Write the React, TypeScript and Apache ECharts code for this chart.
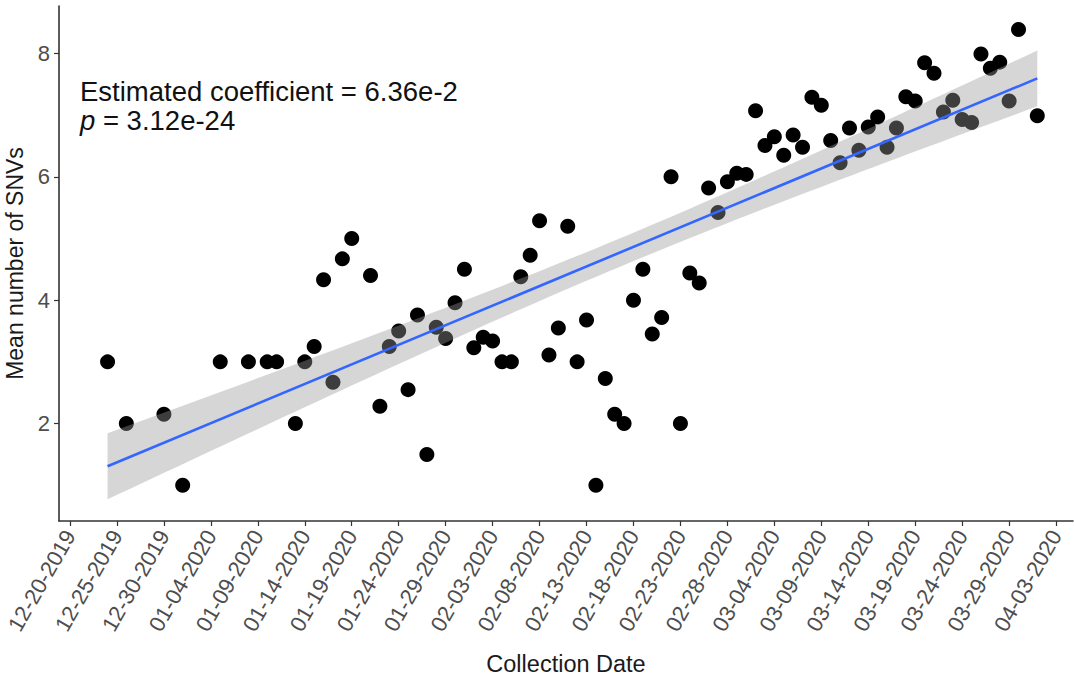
import React, { useEffect, useRef } from "react";
import * as echarts from "echarts";

// ---- data ----
const xTickLabels = [
  "12-20-2019", "12-25-2019", "12-30-2019", "01-04-2020", "01-09-2020", "01-14-2020",
  "01-19-2020", "01-24-2020", "01-29-2020", "02-03-2020", "02-08-2020", "02-13-2020",
  "02-18-2020", "02-23-2020", "02-28-2020", "03-04-2020", "03-09-2020", "03-14-2020",
  "03-19-2020", "03-24-2020", "03-29-2020", "04-03-2020",
];
const yTickValues = [2, 4, 6, 8];

const collectionDates = [
  "12-24-2019", "12-26-2019", "12-30-2019", "01-01-2020", "01-05-2020", "01-08-2020",
  "01-10-2020", "01-11-2020", "01-13-2020", "01-14-2020", "01-15-2020", "01-16-2020",
  "01-17-2020", "01-18-2020", "01-19-2020", "01-21-2020", "01-22-2020", "01-23-2020",
  "01-24-2020", "01-25-2020", "01-26-2020", "01-27-2020", "01-28-2020", "01-29-2020",
  "01-30-2020", "01-31-2020", "02-01-2020", "02-02-2020", "02-03-2020", "02-04-2020",
  "02-05-2020", "02-06-2020", "02-07-2020", "02-08-2020", "02-09-2020", "02-10-2020",
  "02-11-2020", "02-12-2020", "02-13-2020", "02-14-2020", "02-15-2020", "02-16-2020",
  "02-17-2020", "02-18-2020", "02-19-2020", "02-20-2020", "02-21-2020", "02-22-2020",
  "02-23-2020", "02-24-2020", "02-25-2020", "02-26-2020", "02-27-2020", "02-28-2020",
  "02-29-2020", "03-01-2020", "03-02-2020", "03-03-2020", "03-04-2020", "03-05-2020",
  "03-06-2020", "03-07-2020", "03-08-2020", "03-09-2020", "03-10-2020", "03-11-2020",
  "03-12-2020", "03-13-2020", "03-14-2020", "03-15-2020", "03-16-2020", "03-17-2020",
  "03-18-2020", "03-19-2020", "03-20-2020", "03-21-2020", "03-22-2020", "03-23-2020",
  "03-24-2020", "03-25-2020", "03-26-2020", "03-27-2020", "03-28-2020", "03-29-2020",
  "03-30-2020", "04-01-2020",
];
const meanSNVs = [
  3.0, 2.0, 2.15, 1.0, 3.0, 3.0,
  3.0, 3.0, 2.0, 3.0, 3.25, 4.33,
  2.67, 4.67, 5.0, 4.4, 2.28, 3.25,
  3.5, 2.55, 3.76, 1.5, 3.56, 3.38,
  3.96, 4.5, 3.23, 3.4, 3.34, 3.0,
  3.0, 4.38, 4.73, 5.29, 3.11, 3.55,
  5.2, 3.0, 3.68, 1.0, 2.73, 2.15,
  2.0, 4.0, 4.5, 3.45, 3.72, 6.0,
  2.0, 4.44, 4.28, 5.82, 5.42, 5.92,
  6.06, 6.04, 7.07, 6.51, 6.65, 6.35,
  6.68, 6.48, 7.29, 7.16, 6.59, 6.23,
  6.79, 6.43, 6.81, 6.97, 6.48, 6.79,
  7.3, 7.23, 7.85, 7.68, 7.05, 7.24,
  6.93, 6.88, 7.99, 7.76, 7.86, 7.23,
  8.39, 6.99,
];

const annotationLine1 = "Estimated coefficient = 6.36e-2";
const annotationLine2 = "{i|p} = 3.12e-24";
const xAxisTitle = "Collection Date";
const yAxisTitle = "Mean number of SNVs";

// ---- helpers ----
const FONT = "'Liberation Sans', Arial, Helvetica, sans-serif";
const ORIGIN = xTickLabels[0];
function toUTC(mdy: string) {
  const [m, d, y] = mdy.split("-").map(Number);
  return Date.UTC(y, m - 1, d);
}
function dayOffset(mdy: string) {
  return Math.round((toUTC(mdy) - toUTC(ORIGIN)) / 86400000);
}

export default function App() {
  const ref = useRef<HTMLDivElement>(null);
  useEffect(() => {
    if (!ref.current) return;
    const chart = echarts.init(ref.current, null, { renderer: "svg" });

    const xs = collectionDates.map(dayOffset);
    const ys = meanSNVs;
    const points = xs.map((x, i) => [x, ys[i]]);
    const n = xs.length;
    const xbar = xs.reduce((a, b) => a + b, 0) / n;
    const ybar = ys.reduce((a, b) => a + b, 0) / n;
    let sxx = 0, sxy = 0;
    for (let i = 0; i < n; i++) {
      sxx += (xs[i] - xbar) ** 2;
      sxy += (xs[i] - xbar) * (ys[i] - ybar);
    }
    const slope = sxy / sxx;
    const intercept = ybar - slope * xbar;
    let sse = 0;
    for (let i = 0; i < n; i++) sse += (ys[i] - (intercept + slope * xs[i])) ** 2;
    const s = Math.sqrt(sse / (n - 2));
    const tq = 1.989;
    const xmin = Math.min(...xs);
    const xmax = Math.max(...xs);
    const band: { x: number; lo: number; hi: number }[] = [];
    const steps = 80;
    for (let k = 0; k <= steps; k++) {
      const x = xmin + ((xmax - xmin) * k) / steps;
      const f = intercept + slope * x;
      const se = s * Math.sqrt(1 / n + (x - xbar) ** 2 / sxx);
      band.push({ x, lo: f - tq * se, hi: f + tq * se });
    }
    const fitLine = [
      [xmin, intercept + slope * xmin],
      [xmax, intercept + slope * xmax],
    ];

    const xTickVals = xTickLabels.map(dayOffset);
    const labelMap: Record<number, string> = {};
    xTickLabels.forEach((l, i) => (labelMap[xTickVals[i]] = l));

    const axisColor = "#333333";
    const tickLabelColor = "#4d4d4d";

    chart.setOption({
      animation: false,
      backgroundColor: "#ffffff",
      grid: { left: 59, right: 1, top: 6, bottom: 160, containLabel: false, outerBoundsMode: "none" },
      xAxis: {
        type: "value",
        min: -1.17,
        max: 106.8,
        axisLine: { show: true, onZero: false, lineStyle: { color: axisColor, width: 1.6 } },
        axisTick: { show: true, customValues: xTickVals, length: 5, lineStyle: { color: axisColor, width: 1.2 } },
        axisLabel: {
          customValues: xTickVals,
          rotate: 60,
          margin: 11,
          fontSize: 22,
          fontFamily: FONT,
          color: tickLabelColor,
          align: "right",
          verticalAlign: "middle",
          padding: [12, 0, 0, 0],
          formatter: (v: number) => labelMap[Math.round(v)] ?? "",
        },
        splitLine: { show: false },
        name: xAxisTitle,
        nameLocation: "middle",
        nameGap: 131,
        nameTextStyle: { fontSize: 23.5, fontFamily: FONT, color: "#1a1a1a" },
      },
      yAxis: {
        type: "value",
        min: 0.42,
        max: 8.77,
        axisLine: { show: true, onZero: false, lineStyle: { color: axisColor, width: 1.6 } },
        axisTick: { show: true, customValues: yTickValues, length: 5, lineStyle: { color: axisColor, width: 1.2 } },
        axisLabel: {
          customValues: yTickValues,
          margin: 9,
          fontSize: 22,
          fontFamily: FONT,
          color: tickLabelColor,
        },
        splitLine: { show: false },
        name: yAxisTitle,
        nameLocation: "middle",
        nameGap: 18,
        nameTextStyle: { fontSize: 23, fontFamily: FONT, color: "#1a1a1a" },
      },
      series: [
        {
          type: "scatter",
          data: points,
          symbol: "circle",
          symbolSize: 15,
          itemStyle: { color: "#000000", opacity: 1 },
          z: 2,
          silent: true,
        },
        {
          type: "custom",
          coordinateSystem: "cartesian2d",
          data: [[xmin, intercept + slope * xmin]],
          z: 3,
          silent: true,
          renderItem: (_params: any, api: any) => {
            const pts: number[][] = [];
            band.forEach((b) => pts.push(api.coord([b.x, b.hi])));
            for (let k = band.length - 1; k >= 0; k--) pts.push(api.coord([band[k].x, band[k].lo]));
            return {
              type: "polygon",
              shape: { points: pts },
              style: { fill: "rgba(153,153,153,0.4)", stroke: null },
            };
          },
        },
        {
          type: "line",
          data: fitLine,
          symbol: "none",
          lineStyle: { color: "#3366FF", width: 2.6 },
          z: 4,
          silent: true,
        },
      ],
      graphic: [
        {
          type: "text",
          x: 80,
          y: 91.5,
          silent: true,
          style: {
            text: annotationLine1,
            fontSize: 27.5,
            fontFamily: FONT,
            fill: "#111111",
            verticalAlign: "middle",
          },
        },
        {
          type: "text",
          x: 80,
          y: 120.5,
          silent: true,
          style: {
            text: annotationLine2,
            fontSize: 27.5,
            fontFamily: FONT,
            fill: "#111111",
            verticalAlign: "middle",
            rich: { i: { fontStyle: "italic", fontSize: 27.5, fontFamily: FONT, fill: "#111111" } },
          },
        },
      ],
    });
    return () => chart.dispose();
  }, []);
  return (
    <div
      ref={ref}
      style={{ position: "fixed", left: 0, top: 0, width: 1074, height: 681, background: "#fff" }}
    />
  );
}
